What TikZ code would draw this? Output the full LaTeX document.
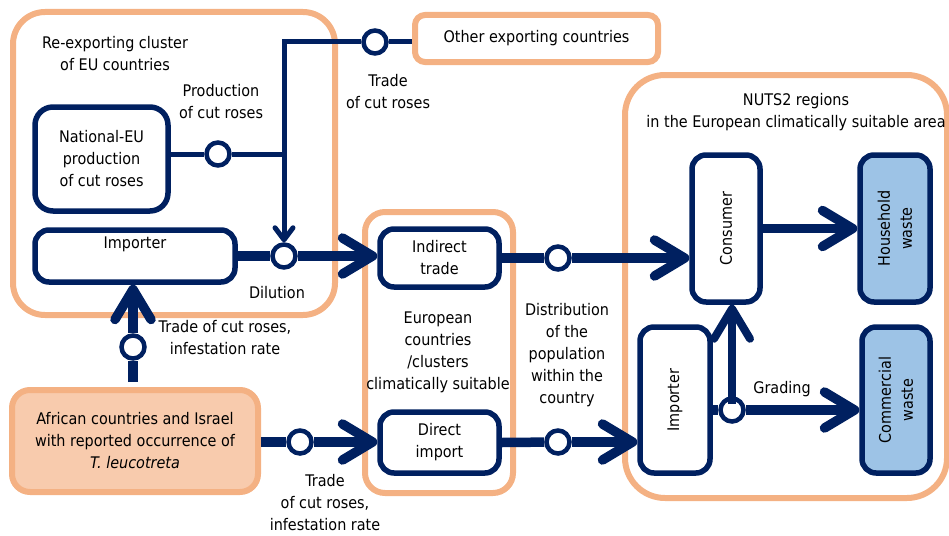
\documentclass[tikz,border=0pt]{standalone}
\usepackage{fontspec}
\setmainfont{DejaVu Sans}[FakeStretch=0.9]
\usetikzlibrary{arrows.meta}
\definecolor{navy}{RGB}{0,32,96}
\definecolor{peach}{RGB}{244,177,131}
\definecolor{peachfill}{RGB}{248,203,173}
\definecolor{wasteblue}{RGB}{157,195,230}
\begin{document}
\begin{tikzpicture}[x=1pt,y=-1pt,
    font=\fontsize{16}{22}\selectfont,
    area/.style={draw=peach,line width=6pt,rounded corners=#1,inner sep=0pt},
    area/.default=32pt,
    box/.style={draw=navy,line width=5.5pt,rounded corners=14pt,fill=white,inner sep=0pt,align=center},
    dot/.style={circle,draw=navy,line width=4.5pt,fill=white,minimum size=23pt,inner sep=0pt},
    flow/.style={navy,line width=9.5pt},
    feed/.style={navy,line width=5pt},
    bigtip/.style={-{Straight Barb[length=30pt,width=36pt,round]}},
    smalltip/.style={-{Straight Barb[length=12pt,width=18pt,round]}},
    lbl/.style={align=center,inner sep=0pt}]
  \useasboundingbox (0,0) rectangle (949,535);
  % regions
  \node[area, minimum width=322pt, minimum height=303pt] (cluster) at (174,163.5) {};
  \node[area=10pt, minimum width=243pt, minimum height=47pt] (other) at (536.5,38.5) {Other exporting countries};
  \node[area=20pt, minimum width=148pt, minimum height=281pt] (europe) at (439,352.5) {};
  \node[area=40pt, minimum width=322pt, minimum height=423pt] (nuts) at (786,286.5) {};
  % boxes
  \node[box, minimum width=133pt, minimum height=104pt, rounded corners=18pt] (national) at (101.5,159) {National-EU\\production\\of cut roses};
  \node[box, minimum width=200pt, minimum height=52pt,
        label={[anchor=north,inner sep=9pt]north:Importer}] (importerL) at (135,256) {};
  \node[box, minimum width=119pt, minimum height=58pt] (indirect) at (439.5,258) {Indirect\\trade};
  \node[box, minimum width=119pt, minimum height=61pt] (direct) at (439.5,442.5) {Direct\\import};
  \node[box, minimum width=68pt, minimum height=147pt,
        label={[rotate=90]center:Consumer}] (consumer) at (726,228.5) {};
  \node[box, fill=wasteblue, minimum width=70pt, minimum height=147pt,
        label={[rotate=90,align=center]center:{Household\\waste}}] (household) at (895,228.5) {};
  \node[box, minimum width=70pt, minimum height=146pt,
        label={[rotate=90]center:Importer}] (importerR) at (675,400) {};
  \node[box, fill=wasteblue, minimum width=68pt, minimum height=146pt,
        label={[rotate=90,align=center]center:{Commercial\\waste}}] (commercial) at (896,400) {};
  \node[area=18pt, fill=peachfill, align=center, minimum width=246pt, minimum height=102pt] (african) at (135,441)
        {African countries and Israel\\with reported occurrence of\\\textit{T. leucotreta}};
  % crossing points
  \foreach \n/\x/\y in {cTop/375/42, cProd/218/154, cDil/284/256, cInd/558/258,
                        cAfr/133/347, cDir/300/442, cDirB/558/442, cGrad/732/410} {
      \node[dot] (\n) at (\x,\y) {};
  }
  % thin feeds into the dilution point
  \draw[feed] (cTop -| other.west) -- (cTop);
  \draw[feed, smalltip] (cTop) -| (cDil);
  \draw[feed] (cProd -| national.east) -- (cProd);
  \draw[feed] (cProd) -- (cProd -| cDil);
  % main flows
  \draw[flow] (cDil -| importerL.east) -- (cDil);
  \draw[flow, bigtip] (cDil) -- (cDil -| indirect.west);
  \draw[flow] (indirect.east) -- (cInd);
  \draw[flow, bigtip] (cInd) -- (cInd -| consumer.west);
  \draw[flow, bigtip] (consumer.east) -- (household.west);
  \draw[flow] ([yshift=5pt]cAfr |- african.north) -- (cAfr);
  \draw[flow, bigtip] (cAfr) -- (cAfr |- importerL.south);
  \draw[flow] (cDir -| african.east) -- (cDir);
  \draw[flow, bigtip] (cDir) -- (cDir -| direct.west);
  \draw[flow] (direct.east) -- (cDirB);
  \draw[flow, bigtip] (cDirB) -- (cDirB -| importerR.west);
  \draw[flow] (cGrad -| importerR.east) -- (cGrad);
  \draw[flow, bigtip] (cGrad) -- (cGrad -| commercial.west);
  \draw[flow, line width=8pt, bigtip] ([yshift=6pt]cGrad.center) -- (cGrad |- consumer.south);
  % texts
  \node[lbl] (tCluster) at (115,54) {Re-exporting cluster\\of EU countries};
  \node[lbl] (tProd) at (221,102) {Production\\of cut roses};
  \node[lbl] (tTradeOther) at (388,92) {Trade\\of cut roses};
  \node[lbl] (tDil) at (277,293) {Dilution};
  \node[lbl] (tTradeAfr) at (225,338) {Trade of cut roses,\\infestation rate};
  \node[lbl] (tEurope) at (438,352) {European\\countries\\/clusters\\climatically suitable};
  \node[lbl] (tDistr) at (567,355) {Distribution\\of the\\population\\within the\\country};
  \node[lbl] (tNuts) at (796,112.5) {NUTS2 regions\\in the European climatically suitable area};
  \node[lbl] (tGrad) at (782,389) {Grading};
  \node[lbl] (tTradeDir) at (325,503) {Trade\\of cut roses,\\infestation rate};
\end{tikzpicture}
\end{document}
